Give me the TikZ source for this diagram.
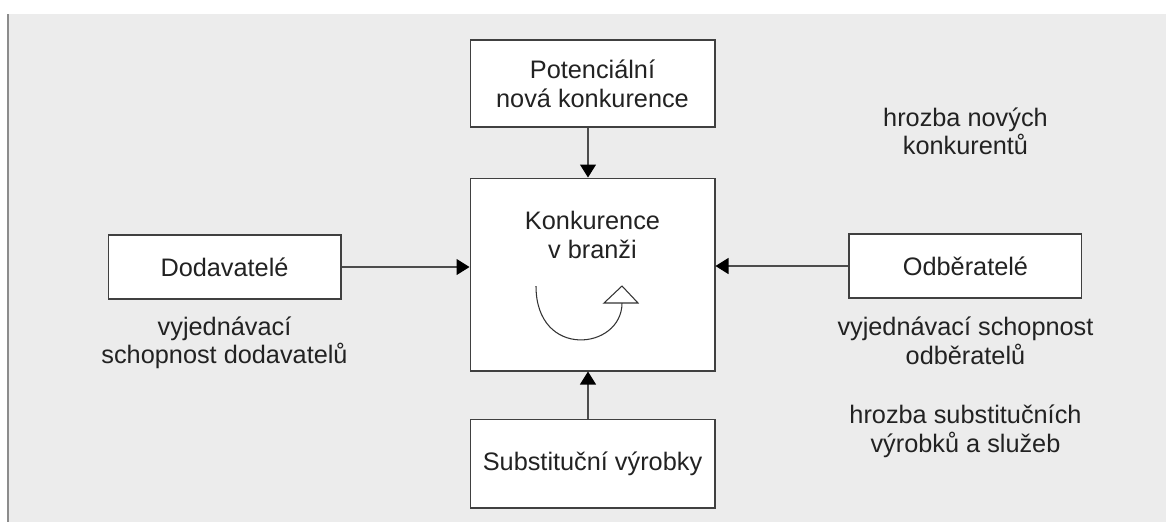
\documentclass[tikz,border=0pt]{standalone}
\usepackage{fontspec}
\setmainfont{Liberation Sans}
\usetikzlibrary{arrows.meta, positioning}
\definecolor{panel}{HTML}{ECECEC}
\definecolor{rule}{HTML}{8C8C8C}
\definecolor{ink}{HTML}{222222}

\begin{document}
\begin{tikzpicture}[
      x=0.02cm, y=-0.02cm,
      font=\fontsize{14.4}{16.4}\selectfont, text=ink,
      box/.style  = {draw=black!75, fill=white, line width=0.6pt, inner sep=0pt,
                     minimum width=4.9cm, align=center},
      side/.style = {draw=black!75, fill=white, line width=0.6pt, inner sep=0pt,
                     minimum width=4.66cm, minimum height=1.28cm, align=center},
      lbl/.style  = {inner sep=0pt, align=center},
      arr/.style  = {-{Triangle[length=0.26cm, width=0.32cm, color=black]},
                     draw=black!70, line width=0.6pt}
    ]

    % ---- background panel ----
    \useasboundingbox (0,0) rectangle (1166,522);
    \fill[panel] (8,14) rectangle (1166,522);
    \draw[rule, line width=0.04cm] (8,14) -- (8,522);

    % ---- CENTRE COLUMN ----
    \node[box, minimum height=3.86cm] (konk) at (592.5,274.5) {};
    \node[lbl, below=0.67cm of konk.north] (konktxt) {Konkurence\\v branži};
    \node[box, minimum height=1.74cm, above=1.0cm of konk]  (pot)   {Potenciální\\nová konkurence};
    \node[box, minimum height=1.78cm, below=0.94cm of konk] (subst) {Substituční výrobky};

    % ---- SIDE BOXES ----
    \node[side, left=2.56cm of konk, yshift=0.15cm]  (dod) {Dodavatelé};
    \node[side, right=2.66cm of konk, yshift=0.17cm] (odb) {Odběratelé};

    % ---- labels ----
    \node[lbl, below=0.33cm of dod]    (dodlab)   {vyjednávací\\schopnost dodavatelů};
    \node[lbl, below=0.36cm of odb]    (odblab)   {vyjednávací schopnost\\odběratelů};
    \node[lbl, below=0.8cm of odblab]  (subslab)  {hrozba substitučních\\výrobků a služeb};
    \node[lbl, above=1.56cm of odb]    (newlab)   {hrozba nových\\konkurentů};

    % ---- arrows ----
    \draw[arr] ([xshift=-0.09cm]pot.south) -- ([xshift=-0.09cm]konk.north);
    \draw[arr] ([xshift=-0.09cm]subst.north) -- ([xshift=-0.09cm]konk.south);
    \draw[arr] (dod.east) -- (dod.east -| konk.west);
    \draw[arr] (odb.west) -- (odb.west -| konk.east);

    % ---- rivalry curl ----
    \draw[black!80, line width=0.6pt] (536,286) .. controls (536,360) and (622,350) .. (622,303);
    \draw[black!80, fill=white, line width=0.6pt] (604,303) -- (622,286) -- (638,303) -- cycle;

  \end{tikzpicture}
\end{document}
